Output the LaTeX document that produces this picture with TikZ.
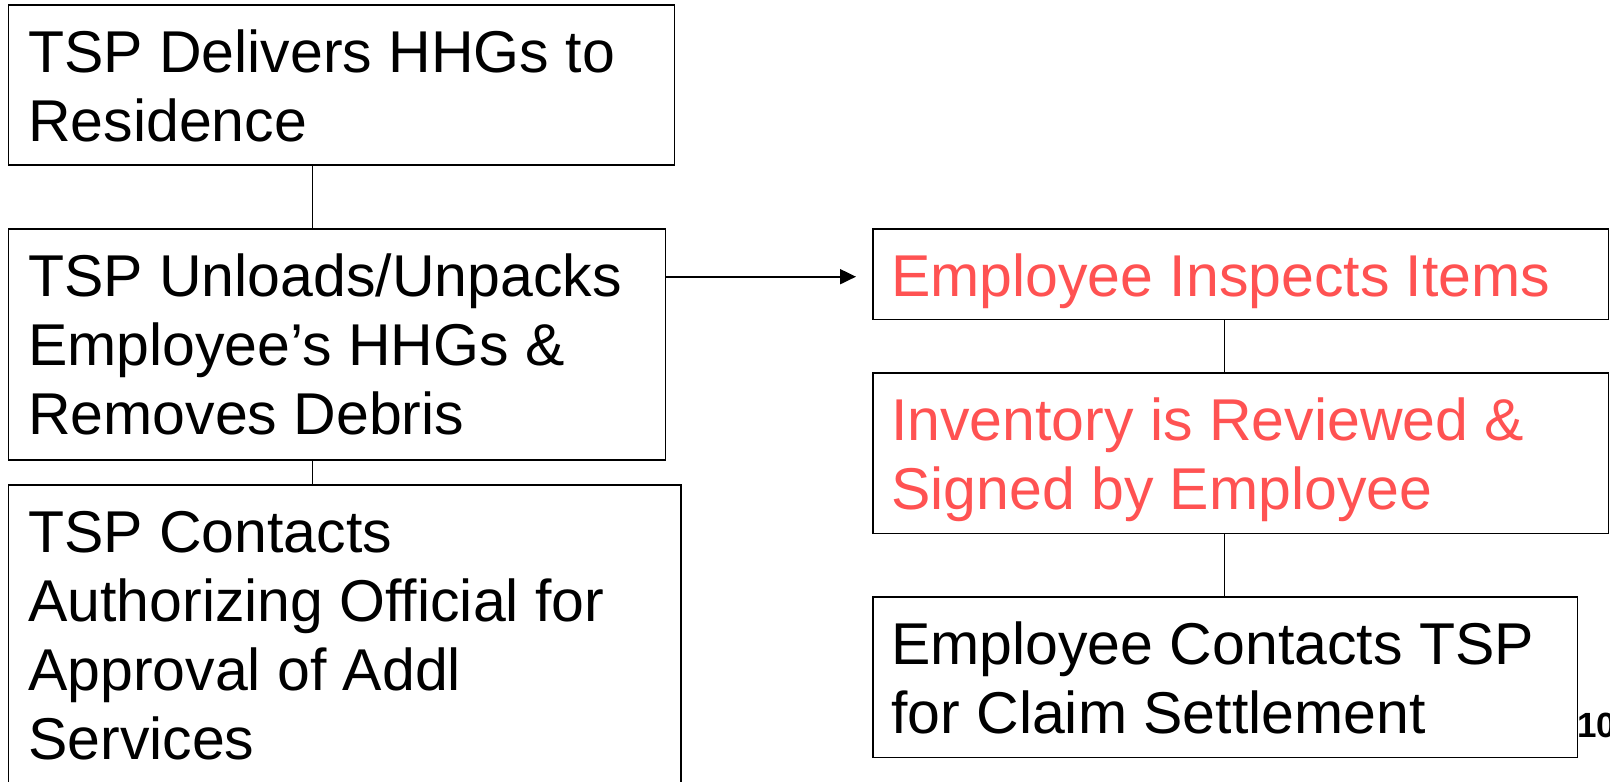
\documentclass[tikz,border=0pt]{standalone}
\usepackage{fontspec}
\setmainfont{Liberation Sans}
\usetikzlibrary{arrows.meta}
\definecolor{redtxt}{RGB}{255,82,82}
\newcommand{\boxlines}[1]{\parbox[t]{760pt}{\raggedright #1}}
\begin{document}
\begin{tikzpicture}[x=1pt,y=-1pt,
  box/.style={draw=black, line width=1.2pt, inner sep=0pt, anchor=north west},
  txt/.style={anchor=base west, inner sep=0pt, font=\fontsize{59}{69}\selectfont},
  redt/.style={txt, text=redtxt},
  link/.style={draw=black, line width=1.2pt},
  arr/.style={draw=black, line width=2pt, -{Triangle[length=16pt,width=15pt]}}]
\useasboundingbox (0,0) rectangle (1610,782);
\clip (0,0) rectangle (1610,782);
\fill[white] (0,0) rectangle (1610,782);
% boxes
\node[box, minimum width=666.3pt, minimum height=160pt] (b1) at (7.7,4.3) {};
\node[box, minimum width=657pt, minimum height=231pt] (b2) at (7.7,228.3) {};
\node[box, minimum width=672.7pt, minimum height=320pt] (b3) at (7.7,484.3) {};
\node[box, minimum width=735.7pt, minimum height=90.7pt] (b4) at (872.3,228.3) {};
\node[box, minimum width=735.7pt, minimum height=160.4pt] (b5) at (872.3,372.3) {};
\node[box, minimum width=704.4pt, minimum height=160.7pt] (b6) at (872.3,596.3) {};
% texts
\node[txt] (t1) at (28,72) {\boxlines{TSP Delivers HHGs to\\Residence}};
\node[txt] (t2) at (28,296) {\boxlines{TSP Unloads/Unpacks\\Employee’s HHGs \&\\Removes Debris}};
\node[txt] (t3) at (28,552) {\boxlines{TSP Contacts\\Authorizing Official for\\Approval of Addl\\Services}};
\node[redt] (t4) at (891,296) {\boxlines{Employee Inspects Items}};
\node[redt] (t5) at (891,440) {\boxlines{Inventory is Reviewed \&\\Signed by Employee}};
\node[txt] (t6) at (891,664) {\boxlines{Employee Contacts TSP\\for Claim Settlement}};
\node[anchor=base west, inner sep=0pt, font=\fontsize{35}{40}\selectfont\bfseries] (pg) at (1577,737) {10};
% connectors
\coordinate (cl) at (312.3,0);
\coordinate (cr) at (1224.7,0);
\coordinate (a1) at (0,276.7);
\coordinate (a2) at (856,276.7);
\draw[link] (b1.south -| cl) -- (b2.north -| cl);
\draw[link] (b2.south -| cl) -- (b3.north -| cl);
\draw[link] (b4.south -| cr) -- (b5.north -| cr);
\draw[link] (b5.south -| cr) -- (b6.north -| cr);
\draw[arr] (b2.east |- a1) -- (a2);
\end{tikzpicture}
\end{document}
